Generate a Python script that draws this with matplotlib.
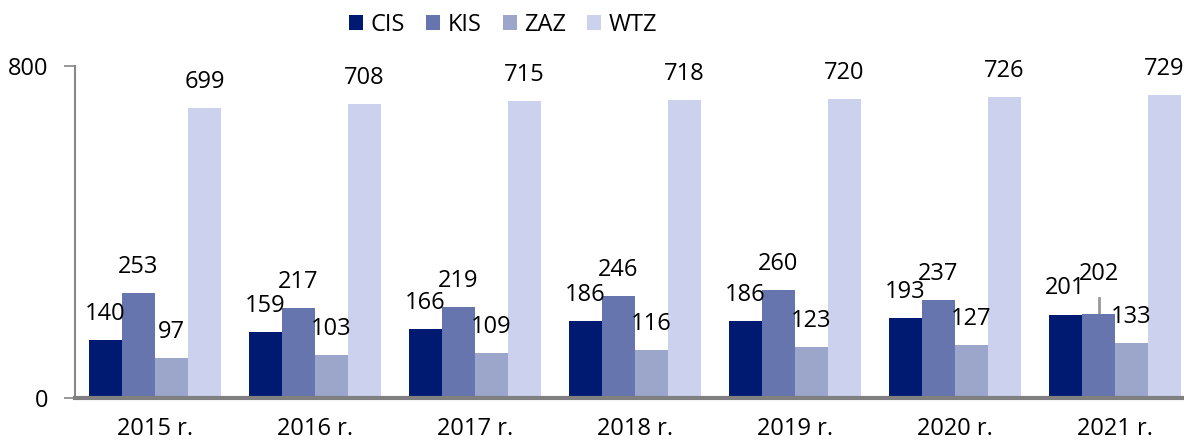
import matplotlib
matplotlib.use("Agg")
import matplotlib.pyplot as plt
import numpy as np

years = ["2015 r.", "2016 r.", "2017 r.", "2018 r.", "2019 r.", "2020 r.", "2021 r."]
series = ["CIS", "KIS", "ZAZ", "WTZ"]
cis = [140, 159, 166, 186, 186, 193, 201]
kis = [253, 217, 219, 246, 260, 237, 202]
zaz = [97, 103, 109, 116, 123, 127, 133]
wtz = [699, 708, 715, 718, 720, 726, 729]
colors = ["#001a72", "#6675ad", "#9ba6ca", "#ccd1ee"]

plt.rcParams["font.family"] = ["Open Sans", "DejaVu Sans"]

fig = plt.figure(figsize=(11.84, 4.41), dpi=100)
ax = fig.add_axes([75 / 1184, 1 - 398 / 441, 1120 / 1184, 332 / 441])

x = np.arange(len(years))
w = 0.206
fs = 17
handles = []
for i, (name, vals, c) in enumerate(zip(series, [cis, kis, zaz, wtz], colors)):
    pos = x + (i - 1.5) * w
    b = ax.bar(pos, vals, w, color=c, label=name, zorder=2)
    handles.append(b)
    for j, (px, v) in enumerate(zip(pos, vals)):
        if name == "KIS" and j == 6:
            # raised label with leader line
            ax.plot([px, px], [v, v + 40], color="#999999", lw=2, zorder=1)
            ax.text(px, v + 68, str(v), ha="center", va="bottom", fontsize=fs)
        else:
            ax.text(px, v + 34, str(v), ha="center", va="bottom", fontsize=fs)

ax.set_xlim(-0.5, len(years) - 0.5)
ax.set_ylim(0, 800)
ax.set_yticks([0, 800])
ax.set_xticks(x)
ax.set_xticklabels(years, fontsize=fs)
ax.tick_params(axis="y", labelsize=fs, length=8, color="#888888", width=1.2, pad=11)
ax.tick_params(axis="x", length=0, pad=14)
for s in ["top", "right"]:
    ax.spines[s].set_visible(False)
ax.spines["left"].set_color("#888888")
ax.spines["left"].set_linewidth(1.5)
ax.spines["bottom"].set_color("#808080")
ax.spines["bottom"].set_linewidth(3)

fig.legend(handles=handles, labels=series, loc="center", bbox_to_anchor=(503 / 1184, 1 - 25 / 441),
           ncol=4, frameon=False, fontsize=fs, handlelength=0.6, handleheight=0.6,
           handletextpad=0.3, columnspacing=0.9)

fig.savefig("out.png", dpi=100)
